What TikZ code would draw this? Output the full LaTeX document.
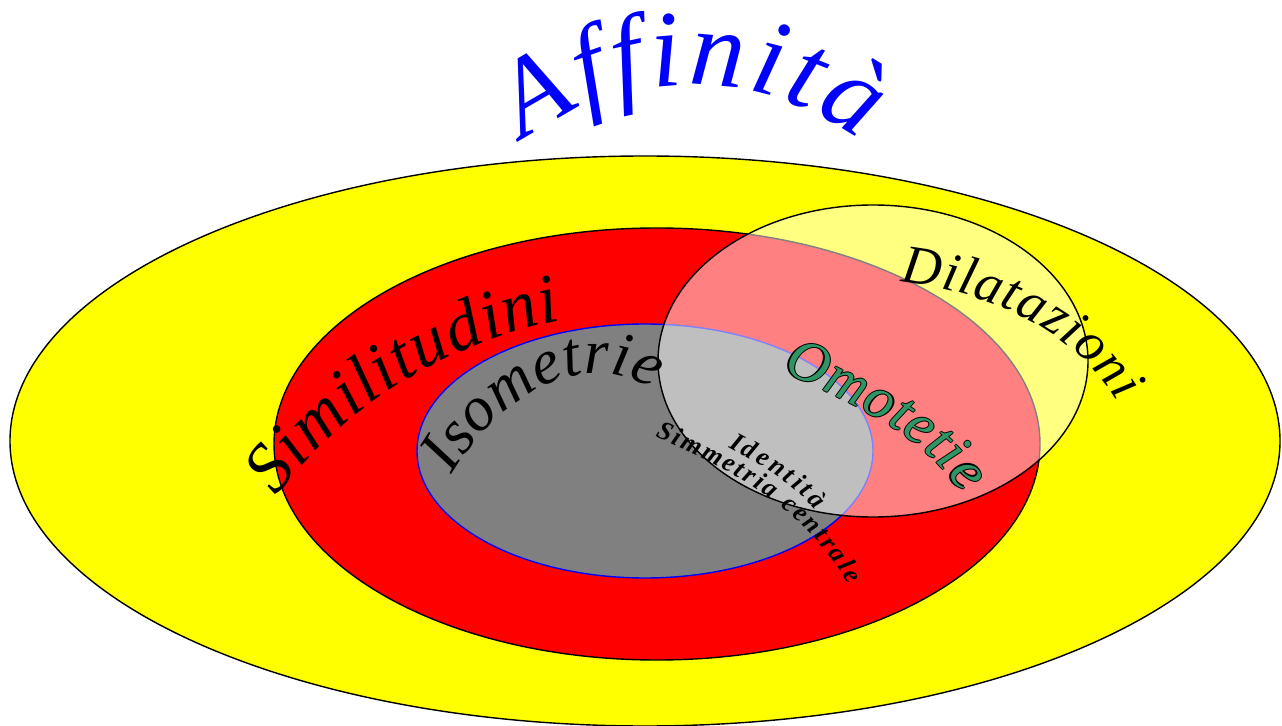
\documentclass[tikz,border=0pt]{standalone}
\usepackage{fontspec}
\setmainfont{Liberation Serif}
\usetikzlibrary{decorations.text}
\definecolor{giallo}{RGB}{255,255,0}
\definecolor{omogreen}{RGB}{46,150,100}
\tikzset{
  rim/.style={draw=black,thick},
  curved/.style={decorate,decoration={text along path,text align=fit to path,text={#1}}},
}
\newcommand\omopath{(782,-372) .. controls (850,-402) and (925,-435) .. (962,-494)}

\begin{document}
\begin{tikzpicture}[x=0.02cm,y=0.02cm]
\useasboundingbox (0,0) rectangle (1282,-726);
% insiemi
\filldraw[fill=giallo,rim] (645,-441) ellipse [x radius=635,y radius=285];
\filldraw[fill=red,rim] (657,-444) ellipse [x radius=383,y radius=216];
\filldraw[fill=gray,draw=blue,thick] (645,-451) ellipse [x radius=228,y radius=127];
\filldraw[fill=white,fill opacity=0.5,rim] (873,-361) ellipse [x radius=215,y radius=156];
% etichette
\path[curved={|\fontsize{62}{66}\selectfont\itshape\color{blue}|Affinit{\`a}}]
  (524,-141) arc [start angle=127,end angle=53,radius=279];
\path[curved={|\fontsize{40}{42}\selectfont\itshape|Similitudini}]
  (277,-497) .. controls (330,-420) and (435,-345) .. (562,-320);
\path[curved={|\fontsize{36}{38}\selectfont\itshape|Isometrie}]
  (452,-475) .. controls (490,-410) and (575,-340) .. (652,-390);
\path[curved={|\fontsize{31}{33}\selectfont\itshape|Dilatazioni}]
  (900,-282) .. controls (985,-290) and (1075,-330) .. (1118,-402);
\foreach \dx/\dy in {0.6/0,-0.6/0,0/0.6,0/-0.6}
  \path[shift={(\dx pt,\dy pt)},curved={|\fontsize{33}{35}\selectfont\itshape|Omotetie}] \omopath;
\path[curved={|\fontsize{33}{35}\selectfont\itshape\color{omogreen}|Omotetie}] \omopath;
\path[curved={|\fontsize{15}{16}\selectfont\bfseries\itshape|Identit{\`a}}]
  (728,-447) .. controls (755,-462) and (790,-480) .. (815,-510);
\path[curved={|\fontsize{15}{16}\selectfont\bfseries\itshape|Simmetria centrale}]
  (655,-437) .. controls (720,-465) and (805,-505) .. (848,-585);
\end{tikzpicture}
\end{document}
